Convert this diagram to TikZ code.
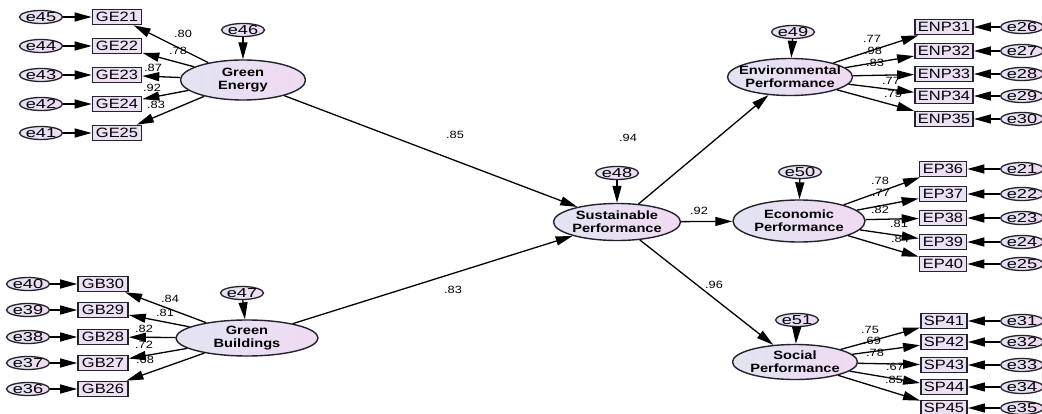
\documentclass[tikz,border=0pt]{standalone}
\usepackage{fontspec}
\setmainfont{Liberation Sans}[FakeStretch=1.22]
\newfontfamily\widefont{Liberation Sans}[FakeStretch=1.4]
\usetikzlibrary{arrows.meta,shapes.geometric}
\definecolor{latL}{RGB}{226,228,242}
\definecolor{latR}{RGB}{240,218,242}
\definecolor{boxfill}{RGB}{236,224,244}
\definecolor{edge}{RGB}{35,35,45}
\begin{document}
\begin{tikzpicture}[x=1pt,y=-1pt,
  lat/.style={ellipse, draw=edge, line width=1.4pt, left color=latL, right color=latR,
    inner xsep=-7pt, inner ysep=0pt, align=center, font=\fontsize{12}{13}\selectfont\bfseries},
  err/.style={ellipse, draw=edge, line width=1.3pt, left color=latL, right color=latR,
    minimum width=41pt, minimum height=13pt, inner sep=0pt, font=\widefont\fontsize{13}{13}\selectfont},
  obs/.style={rectangle, draw=edge, line width=1.6pt, fill=boxfill, minimum height=15pt,
    inner xsep=3pt, inner ysep=0pt, font=\fontsize{13.5}{13}\selectfont},
  arr/.style={-{Triangle[length=17pt,width=9pt]}, line width=1.3pt, draw=black},
  coef/.style={font=\fontsize{10.5}{11}\selectfont, inner sep=0pt}
]
\useasboundingbox[fill=white] (0,0) rectangle (1042,414);

% ---------- coefficient labels (drawn first, arrows may overlap) ----------
\node[coef] (c1) at (183,34) {.80};
\node[coef] (c2) at (178,51) {.78};
\node[coef] (c3) at (153,68) {.87};
\node[coef] (c4) at (152,88) {.92};
\node[coef] (c5) at (156,105) {.83};
\node[coef] (c6) at (170,299) {.84};
\node[coef] (c7) at (165,313) {.81};
\node[coef] (c8) at (144,329) {.82};
\node[coef] (c9) at (144,345) {.72};
\node[coef] (c10) at (145,360) {.68};
\node[coef] (c11) at (872,39) {.77};
\node[coef] (c12) at (873,51) {.98};
\node[coef] (c13) at (875,63) {.83};
\node[coef] (c14) at (891,81) {.77};
\node[coef] (c15) at (893,94) {.75};
\node[coef] (c16) at (880,181) {.78};
\node[coef] (c17) at (881,193) {.77};
\node[coef] (c18) at (880,210) {.82};
\node[coef] (c19) at (899,224) {.81};
\node[coef] (c20) at (900,239) {.84};
\node[coef] (c21) at (870,330) {.75};
\node[coef] (c22) at (872,341) {.69};
\node[coef] (c23) at (875,353) {.78};
\node[coef] (c24) at (895,367) {.67};
\node[coef] (c25) at (894,380) {.85};
\node[coef] (c26) at (455,135) {.85};
\node[coef] (c27) at (453,290) {.83};
\node[coef] (c28) at (628,138) {.94};
\node[coef] (c29) at (699,211) {.92};
\node[coef] (c30) at (714,285) {.96};

% ---------- latent variables ----------
\node[lat, minimum width=125pt, minimum height=40pt] (GEn) at (243,80) {Green\\Energy};
\node[lat, minimum width=142pt, minimum height=36pt] (GBu) at (247,338) {Green\\Buildings};
\node[lat, minimum width=127pt, minimum height=37pt] (SuP) at (617,222) {Sustainable\\Performance};
\node[lat, minimum width=125pt, minimum height=37pt] (EnP) at (790,77) {Environmental\\Performance};
\node[lat, minimum width=132pt, minimum height=42pt] (EcP) at (799,221) {Economic\\Performance};
\node[lat, minimum width=125pt, minimum height=35pt] (SoP) at (795,362) {Social\\Performance};

% ---------- disturbance terms ----------
\node[err] (e46) at (243,30) {e46};
\node[err] (e47) at (242,293) {e47};
\node[err] (e48) at (617,173) {e48};
\node[err] (e49) at (793,32) {e49};
\node[err] (e50) at (800,172) {e50};
\node[err] (e51) at (797,320) {e51};
\draw[arr] (e46) -- (GEn);
\draw[arr] (e47) -- (GBu);
\draw[arr] (e48) -- (SuP);
\draw[arr] (e49) -- (EnP);
\draw[arr] (e50) -- (EcP);
\draw[arr] (e51) -- (SoP);

% ---------- structural paths ----------
\draw[arr] (GEn) -- (SuP);
\draw[arr] (GBu) -- (SuP);
\draw[arr] (SuP) -- (EnP);
\draw[arr] (SuP) -- (EcP);
\draw[arr] (SuP) -- (SoP);

% ---------- Green Energy indicators ----------
\foreach \lbl/\n/\y in {21/45/17, 22/44/46, 23/43/75, 24/42/104, 25/41/133} {
  \node[obs, minimum width=49pt] (GE\lbl) at (117,\y) {GE\lbl};
  \node[err] (e\n) at (41,\y) {e\n};
  \draw[arr] (e\n) -- (GE\lbl);
  \draw[arr] (GEn) -- (GE\lbl);
}

% ---------- Green Buildings indicators ----------
\foreach \lbl/\n/\y in {30/40/284, 29/39/310, 28/38/337, 27/37/363, 26/36/389} {
  \node[obs, minimum width=50pt] (GB\lbl) at (103,\y) {GB\lbl};
  \node[err] (e\n) at (28,\y) {e\n};
  \draw[arr] (e\n) -- (GB\lbl);
  \draw[arr] (GBu) -- (GB\lbl);
}

% ---------- Environmental Performance indicators ----------
\foreach \lbl/\n/\y in {31/26/27, 32/27/51, 33/28/74, 34/29/96, 35/30/119} {
  \node[obs, minimum width=58pt] (ENP\lbl) at (944,\y) {ENP\lbl};
  \node[err] (e\n) at (1022,\y) {e\n};
  \draw[arr] (e\n) -- (ENP\lbl);
  \draw[arr] (EnP) -- (ENP\lbl);
}

% ---------- Economic Performance indicators ----------
\foreach \lbl/\n/\y in {36/21/169, 37/22/194, 38/23/218, 39/24/242, 40/25/264} {
  \node[obs, minimum width=47pt] (EP\lbl) at (943,\y) {EP\lbl};
  \node[err] (e\n) at (1022,\y) {e\n};
  \draw[arr] (e\n) -- (EP\lbl);
  \draw[arr] (EcP) -- (EP\lbl);
}

% ---------- Social Performance indicators ----------
\foreach \lbl/\n/\y in {41/31/321, 42/32/342, 43/33/365, 44/34/387, 45/35/408} {
  \node[obs, minimum width=45pt] (SP\lbl) at (944,\y) {SP\lbl};
  \node[err] (e\n) at (1022,\y) {e\n};
  \draw[arr] (e\n) -- (SP\lbl);
  \draw[arr] (SoP) -- (SP\lbl);
}
\end{tikzpicture}
\end{document}
